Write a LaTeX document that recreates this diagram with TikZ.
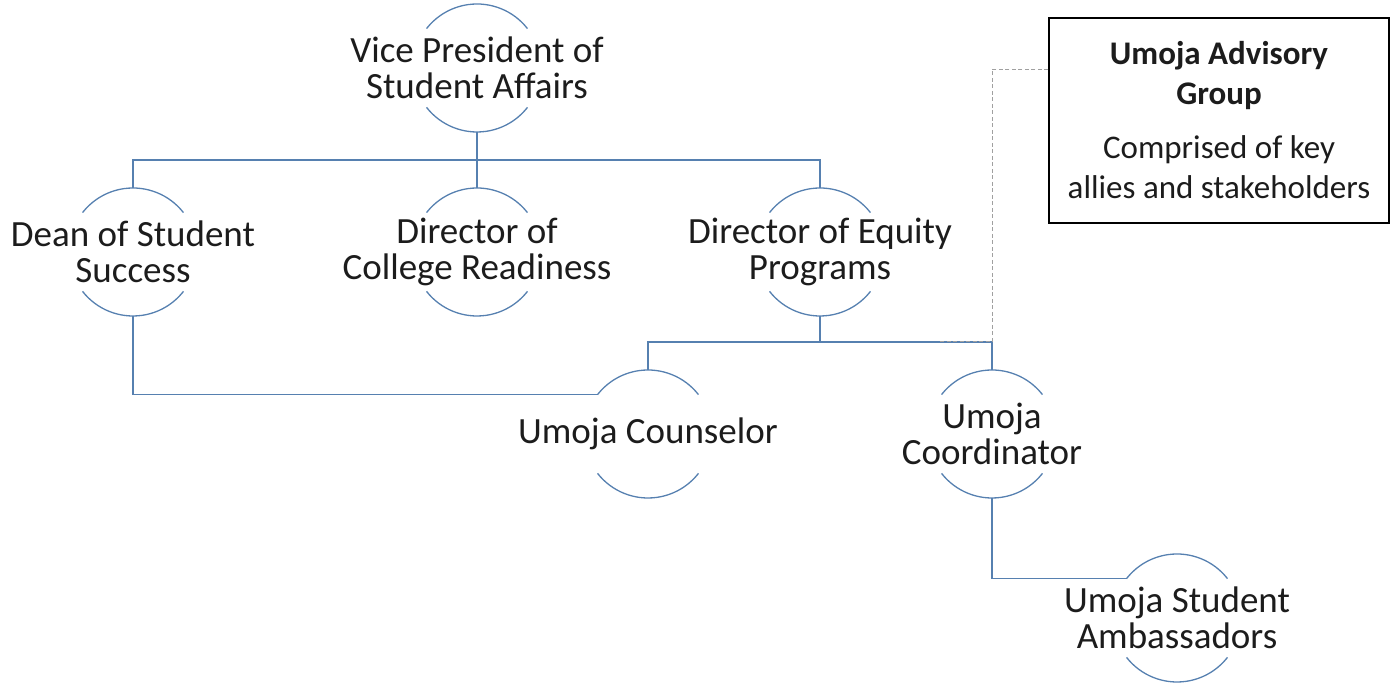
\documentclass[tikz,border=0pt]{standalone}
\usepackage{fontspec}
\setmainfont{Carlito}
\usetikzlibrary{calc}

\definecolor{linkblue}{RGB}{86,128,176}
\definecolor{inkgray}{RGB}{28,28,28}
\definecolor{dashgray}{RGB}{160,160,160}

\begin{document}
\begin{tikzpicture}[x=1pt, y=1pt,
	unit/.style={circle, minimum size=128pt, inner sep=0pt, outer sep=0pt},
	unittext/.style={align=center, text=inkgray, font=\fontsize{37}{36}\selectfont},
	arcline/.style={draw=linkblue, line width=1.3pt},
	link/.style={draw=linkblue, line width=1.3pt},
	advisorylink/.style={draw=dashgray, line width=1pt, dash pattern=on 4pt off 2.5pt},
]
	\def \r {64pt}
	\useasboundingbox (0,0) rectangle (1393,687);

	% top level
	\node[unit, label={[unittext]center:Vice President of\\Student Affairs}] (vp) at (477,619) {};

	% directors
	\node[unit, label={[unittext]center:Dean of Student\\Success}]      (dean)    at (133,435) {};
	\node[unit, label={[unittext]center:Director of\\College Readiness}] (college) at (477,435) {};
	\node[unit, label={[unittext]center:Director of Equity\\Programs}]   (equity)  at (820,435) {};

	% umoja staff
	\node[unit, label={[unittext]center:Umoja Counselor}]         (counselor)   at (648,253) {};
	\node[unit, label={[unittext]center:Umoja\\Coordinator}]      (coordinator) at (992,253) {};
	\node[unit, label={[unittext]center:Umoja Student\\Ambassadors}] (ambassadors) at (1177,69) {};

	% advisory box
	\node[draw=black, line width=1.3pt, minimum width=340pt, minimum height=205pt,
		align=center, text=inkgray, font=\fontsize{33}{40}\selectfont]
		(advisory) at (1219,566.5)
		{\textbf{Umoja Advisory}\\\textbf{Group}\\[14pt]Comprised of key\\allies and stakeholders};

	% half arcs round each unit
	\foreach \n in {vp, dean, college, equity, counselor, coordinator, ambassadors} {
		\draw[arcline] (\n.38) arc[start angle=38, end angle=142, radius=\r];
		\draw[arcline] (\n.218) arc[start angle=218, end angle=322, radius=\r];
	}

	% reporting lines
	\draw[link] (vp.south) -- ++(0,-28) coordinate (vpbus) -| (dean.north);
	\draw[link] (vpbus) -- (college.north);
	\draw[link] (vpbus) -| (equity.north);
	\draw[link] (dean.south) |- (counselor.142);
	\draw[link] (equity.south) -- ++(0,-26) coordinate (eqbus) -| (counselor.north);
	\draw[link] (eqbus) -| (coordinator.north);
	\draw[link] (coordinator.south) |- (ambassadors.142);

	\draw[advisorylink] ([yshift=-52pt]advisory.north west) -| (coordinator.north |- eqbus) -- ++(-52,0);
\end{tikzpicture}
\end{document}
